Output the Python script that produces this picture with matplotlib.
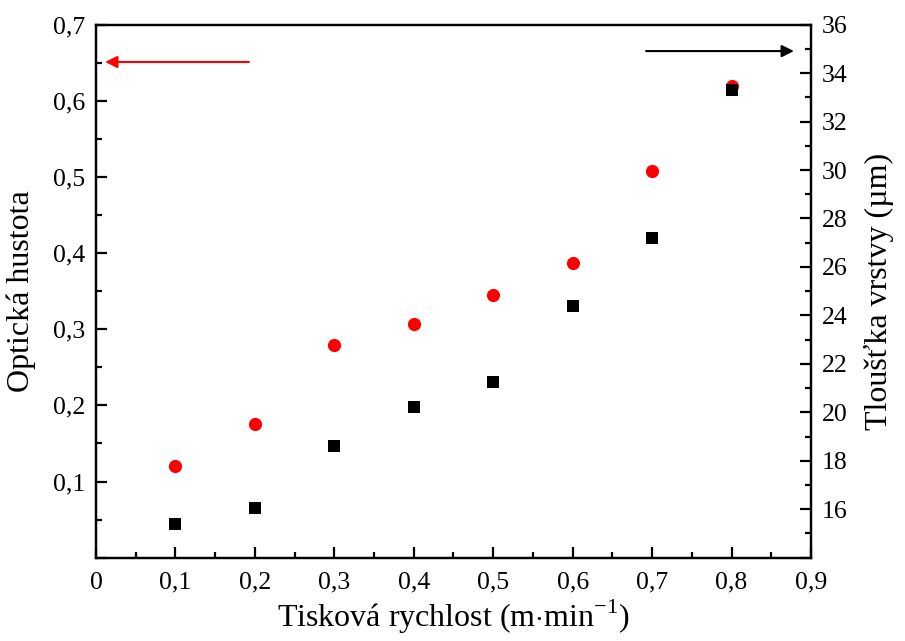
import matplotlib.pyplot as plt
from matplotlib.ticker import MultipleLocator, FuncFormatter

plt.rcParams['font.family'] = ['Liberation Serif', 'DejaVu Serif']
plt.rcParams['mathtext.fontset'] = 'custom'
plt.rcParams['mathtext.rm'] = 'Liberation Serif'

speed = [0.1, 0.2, 0.3, 0.4, 0.5, 0.6, 0.7, 0.8]
density = [0.121, 0.175, 0.279, 0.307, 0.345, 0.387, 0.508, 0.619]
thickness = [15.41, 16.07, 18.60, 20.21, 21.27, 24.38, 27.18, 33.30]

comma = FuncFormatter(lambda v, p: ('%g' % round(v, 3)).replace('.', ','))

fig = plt.figure(figsize=(9.05, 6.41), dpi=100)
ax = fig.add_axes([0.1061, 0.1300, 0.7900, 0.8315])
ax2 = ax.twinx()

ax.plot(speed, density, 'o', color='red', markersize=9.5, markeredgewidth=0, zorder=3)
ax2.plot(speed, thickness, 's', color='black', markersize=8.5, markeredgewidth=0, zorder=3)

ax.set_xlim(0, 0.9)
ax.set_ylim(0, 0.7)
ax2.set_ylim(14, 36)

ax.xaxis.set_major_locator(MultipleLocator(0.1))
ax.xaxis.set_minor_locator(MultipleLocator(0.05))
ax.yaxis.set_major_locator(MultipleLocator(0.1))
ax.yaxis.set_minor_locator(MultipleLocator(0.05))
ax2.yaxis.set_major_locator(MultipleLocator(2))
ax2.yaxis.set_minor_locator(MultipleLocator(1))
ax.xaxis.set_major_formatter(comma)
ax.yaxis.set_major_formatter(FuncFormatter(lambda v, p: '' if abs(v) < 1e-9 else comma(v, p)))
ax2.yaxis.set_major_formatter(FuncFormatter(lambda v, p: '' if v < 15 else '%d' % v))

for a in (ax, ax2):
    for s in a.spines.values():
        s.set_linewidth(1.6)
ax.tick_params(which='both', direction='in', width=1.6, labelsize=18.5, top=False, right=False)
ax.tick_params(which='major', length=8)
ax.tick_params(which='minor', length=4.5)
ax.tick_params(axis='x', pad=10)
ax.tick_params(axis='y', pad=8)
ax2.tick_params(which='both', direction='in', width=1.6, labelsize=18.5)
ax2.tick_params(which='major', length=8, pad=8)
ax2.tick_params(which='minor', length=4.5)

ax.set_xlabel(r'Tisková rychlost (m$\cdot$min$^{-1}$)', fontsize=23, labelpad=3)
ax.set_ylabel('Optická hustota', fontsize=23, labelpad=12)
ax2.set_ylabel('Tloušťka vrstvy (µm)', fontsize=23, labelpad=12)

ax.annotate('', xy=(0.008, 0.651), xytext=(0.196, 0.651),
            arrowprops=dict(arrowstyle='-|>', color='red', lw=1.5, mutation_scale=18))
ax2.annotate('', xy=(0.882, 34.91), xytext=(0.689, 34.91),
             arrowprops=dict(arrowstyle='-|>', color='black', lw=1.5, mutation_scale=18))

fig.savefig('out.png', dpi=100)
